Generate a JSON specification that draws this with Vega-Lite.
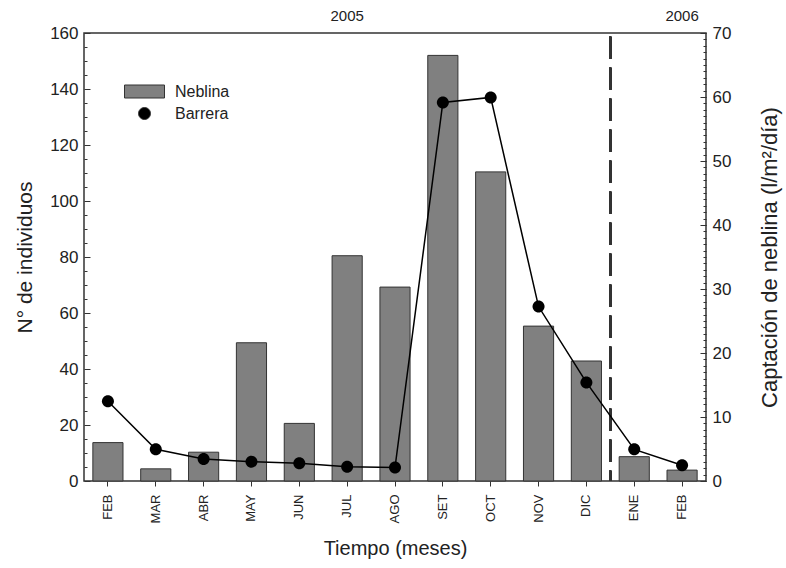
{
  "$schema": "https://vega.github.io/schema/vega-lite/v6.json",
  "width": 622,
  "height": 448,
  "padding": {"left": 14, "top": 8, "right": 5, "bottom": 5},
  "background": "white",
  "config": {
    "font": "Liberation Sans",
    "view": {"stroke": "#333", "strokeWidth": 1.5},
    "axis": {"labelColor": "#222", "titleColor": "#222", "tickColor": "#333", "labelFontSize": 17, "titleFontSize": 21, "titleFontWeight": "normal", "grid": false, "domain": false},
    "legend": {"labelFontSize": 16, "labelColor": "#222"}
  },
  "data": {"values": [
    {"key": "FEB-2005", "neblina": 6.0, "barrera": 28.5},
    {"key": "MAR-2005", "neblina": 1.9, "barrera": 11.3},
    {"key": "ABR-2005", "neblina": 4.5, "barrera": 7.9},
    {"key": "MAY-2005", "neblina": 21.6, "barrera": 6.9},
    {"key": "JUN-2005", "neblina": 9.0, "barrera": 6.3},
    {"key": "JUL-2005", "neblina": 35.2, "barrera": 5.1},
    {"key": "AGO-2005", "neblina": 30.3, "barrera": 4.8},
    {"key": "SET-2005", "neblina": 66.5, "barrera": 135.2},
    {"key": "OCT-2005", "neblina": 48.3, "barrera": 137.0},
    {"key": "NOV-2005", "neblina": 24.2, "barrera": 62.3},
    {"key": "DIC-2005", "neblina": 18.75, "barrera": 35.2},
    {"key": "ENE-2006", "neblina": 3.8, "barrera": 11.3},
    {"key": "FEB-2006", "neblina": 1.7, "barrera": 5.6}
  ]},
  "layer": [
    {
      "mark": {"type": "bar", "width": {"band": 0.63}, "stroke": "#333", "strokeWidth": 1},
      "encoding": {
        "x": {"field": "key", "type": "nominal",
          "scale": {"domain": ["FEB-2005","MAR-2005","ABR-2005","MAY-2005","JUN-2005","JUL-2005","AGO-2005","SET-2005","OCT-2005","NOV-2005","DIC-2005","ENE-2006","FEB-2006"], "paddingInner": 0, "paddingOuter": 0},
          "axis": {"orient": "bottom", "labelAngle": -90, "labelExpr": "substring(datum.label, 0, 3)", "labelFontSize": 13, "tickSize": 5, "labelPadding": 8, "title": "Tiempo (meses)", "titleFontSize": 20, "titlePadding": 16}},
        "y": {"field": "neblina", "type": "quantitative", "scale": {"domain": [0, 70], "nice": false},
          "axis": {"orient": "right", "values": [0,10,20,30,40,50,60,70], "tickSize": -6, "labelPadding": 12, "title": "Captación de neblina (l/m²/día)", "titleFontSize": 22, "titleAngle": 270, "titleBaseline": "top", "titlePadding": 29}},
        "color": {"datum": "Neblina", "type": "nominal",
          "scale": {"domain": ["Neblina", "Barrera"], "range": ["#808080", "#000000"]},
          "legend": {"title": null, "orient": "none", "legendX": 50, "legendY": 48, "symbolSize": 400, "labelOffset": 20, "rowPadding": 3, "padding": 0, "symbolStrokeColor": "#333", "symbolStrokeWidth": 1}}
      }
    },
    {
      "mark": {"type": "rule", "strokeDash": [22, 9], "strokeWidth": 2, "color": "#333"},
      "encoding": {
        "x": {"datum": "ENE-2006", "type": "nominal", "bandPosition": 0,
          "scale": {"domain": ["FEB-2005","MAR-2005","ABR-2005","MAY-2005","JUN-2005","JUL-2005","AGO-2005","SET-2005","OCT-2005","NOV-2005","DIC-2005","ENE-2006","FEB-2006"], "paddingInner": 0, "paddingOuter": 0},
          "axis": {"orient": "top", "values": ["JUL-2005", "FEB-2006"], "bandPosition": 0, "ticks": false, "labelAngle": 0, "labelExpr": "datum.value == 'JUL-2005' ? '2005' : '2006'", "labelFontSize": 15, "labelPadding": 10, "title": null}},
        "y": {"datum": 69.4, "type": "quantitative", "scale": {"domain": [0, 70], "nice": false},
          "axis": {"orient": "right", "values": [0,1,2,3,4,5,6,7,8,9,10,11,12,13,14,15,16,17,18,19,20,21,22,23,24,25,26,27,28,29,30,31,32,33,34,35,36,37,38,39,40,41,42,43,44,45,46,47,48,49,50,51,52,53,54,55,56,57,58,59,60,61,62,63,64,65,66,67,68,69,70], "tickSize": -3, "labels": false, "title": null}},
        "y2": {"datum": 0}
      }
    },
    {
      "mark": {"type": "line", "color": "#000", "strokeWidth": 1.5},
      "encoding": {
        "x": {"field": "key", "type": "nominal",
          "scale": {"domain": ["FEB-2005","MAR-2005","ABR-2005","MAY-2005","JUN-2005","JUL-2005","AGO-2005","SET-2005","OCT-2005","NOV-2005","DIC-2005","ENE-2006","FEB-2006"], "paddingInner": 0, "paddingOuter": 0},
          "axis": null},
        "y": {"field": "barrera", "type": "quantitative", "scale": {"domain": [0, 160], "nice": false},
          "axis": {"orient": "left", "values": [5,10,15,25,30,35,45,50,55,65,70,75,85,90,95,105,110,115,125,130,135,145,150,155], "tickSize": -3, "labels": false, "title": null}}
      }
    },
    {
      "mark": {"type": "point", "filled": true, "size": 400, "opacity": 1},
      "encoding": {
        "x": {"field": "key", "type": "nominal",
          "scale": {"domain": ["FEB-2005","MAR-2005","ABR-2005","MAY-2005","JUN-2005","JUL-2005","AGO-2005","SET-2005","OCT-2005","NOV-2005","DIC-2005","ENE-2006","FEB-2006"], "paddingInner": 0, "paddingOuter": 0},
          "axis": null},
        "y": {"field": "barrera", "type": "quantitative", "scale": {"domain": [0, 160], "nice": false},
          "axis": {"orient": "left", "values": [0,20,40,60,80,100,120,140,160], "tickSize": -6, "labelPadding": 12, "title": "N° de individuos", "titleFontSize": 21, "titlePadding": 14}},
        "color": {"datum": "Barrera", "type": "nominal",
          "scale": {"domain": ["Neblina", "Barrera"], "range": ["#808080", "#000000"]},
          "legend": {"title": null, "orient": "none", "legendX": 50, "legendY": 48, "symbolSize": 400, "labelOffset": 20, "rowPadding": 3, "padding": 0, "symbolStrokeColor": "#333", "symbolStrokeWidth": 1}},
        "shape": {"datum": "Barrera", "type": "nominal",
          "scale": {"domain": ["Neblina", "Barrera"], "range": ["M-2,-0.65H2V0.65H-2Z", "M0.6,0A0.6,0.6,0,1,1,-0.6,0A0.6,0.6,0,1,1,0.6,0Z"]},
          "legend": {"title": null, "orient": "none", "legendX": 50, "legendY": 48, "symbolSize": 400, "labelOffset": 20, "rowPadding": 3, "padding": 0, "symbolStrokeColor": "#333", "symbolStrokeWidth": 1}}
      }
    }
  ],
  "resolve": {"scale": {"y": "independent"}, "axis": {"x": "independent", "y": "independent"}}
}
